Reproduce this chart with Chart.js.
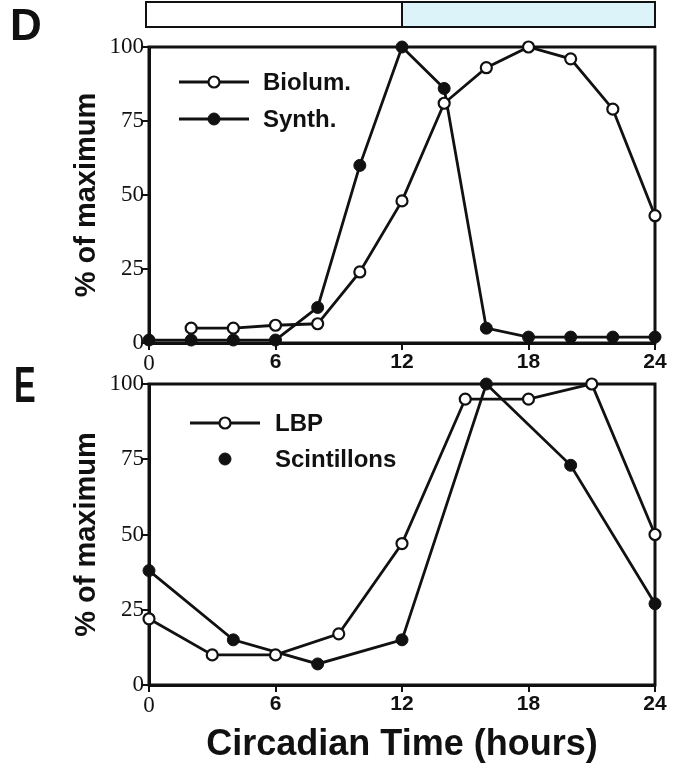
<!DOCTYPE html>
<html>
<head>
<meta charset="utf-8">
<title>Circadian Time</title>
<script src="https://cdn.jsdelivr.net/npm/chart.js@4.4.1/dist/chart.umd.min.js"></script>
<style>
  html, body { margin: 0; padding: 0; background: #fff; }
  #wrap { position: relative; width: 678px; height: 771px; overflow: hidden; }
  #wrap canvas { position: absolute; left: 0; top: 0; }
  .panel { position: absolute; font-family: "Liberation Sans", Arial, sans-serif; font-weight: bold; color: #111; line-height: 1; }
</style>
</head>
<body>
<div id="wrap">
  <canvas id="chartD" width="678" height="771"></canvas>
  <canvas id="chartE" width="678" height="771"></canvas>
  <div class="panel" style="left:10px; top:3px; font-size:44px;">D</div>
  <div class="panel" style="left:14px; top:360px; font-size:50px; transform:scaleX(0.65); transform-origin:left top;">E</div>
</div>
<script>
// Panel D: bioluminescence vs. synthesis over the circadian cycle
const hoursBiolum = [2, 4, 6, 8, 10, 12, 14, 16, 18, 20, 22, 24];
const biolum      = [5, 5, 6, 6.5, 24, 48, 81, 93, 100, 96, 79, 43];
const hoursSynth  = [0, 2, 4, 6, 8, 10, 12, 14, 16, 18, 20, 22, 24];
const synth       = [1, 1, 1, 1, 12, 60, 100, 86, 5, 2, 2, 2, 2];

// Panel E: LBP vs. scintillons
const hoursLbp    = [0, 3, 6, 9, 12, 15, 18, 21, 24];
const lbp         = [22, 10, 10, 17, 47, 95, 95, 100, 50];
const hoursScint  = [0, 4, 8, 12, 16, 20, 24];
const scint       = [38, 15, 7, 15, 100, 73, 27];

const xTicks = [0, 6, 12, 18, 24];
const yTicks = [0, 25, 50, 75, 100];

const INK = '#111';
const SERIF = '"Liberation Serif", "Times New Roman", serif';
const SANS = '"Liberation Sans", Arial, sans-serif';

const pairs = (xs, ys) => xs.map((x, i) => ({ x, y: ys[i] }));

function openSeries(label, xs, ys) {
  return {
    label, data: pairs(xs, ys),
    borderColor: INK, borderWidth: 2.8,
    pointRadius: 5.5, pointBorderWidth: 2.2,
    pointBackgroundColor: '#fff', pointBorderColor: INK,
    tension: 0, clip: false
  };
}
function filledSeries(label, xs, ys) {
  return {
    label, data: pairs(xs, ys),
    borderColor: INK, borderWidth: 2.8,
    pointRadius: 6, pointBorderWidth: 1,
    pointBackgroundColor: INK, pointBorderColor: INK,
    tension: 0, clip: false
  };
}

// box around the plotting area
const frame = {
  id: 'frame',
  beforeDatasetsDraw(chart) {
    const { ctx, chartArea: a } = chart;
    ctx.save();
    ctx.strokeStyle = INK;
    ctx.lineWidth = 3;
    ctx.strokeRect(a.left, a.top, a.right - a.left, a.bottom - a.top);
    ctx.restore();
  }
};

// light/dark bar above panel D, split at the x-scale's midpoint
const dayBar = {
  id: 'dayBar',
  afterDraw(chart, args, opts) {
    if (!opts.show) return;
    const { ctx } = chart;
    const xs = chart.scales.x;
    const x0 = xs.getPixelForValue(xs.min) - 3;
    const xm = xs.getPixelForValue((xs.min + xs.max) / 2);
    const x1 = xs.getPixelForValue(xs.max);
    ctx.save();
    ctx.fillStyle = '#ffffff';
    ctx.fillRect(x0, opts.top, xm - x0, opts.bottom - opts.top);
    ctx.fillStyle = '#dcf3f9';
    ctx.fillRect(xm, opts.top, x1 - xm, opts.bottom - opts.top);
    ctx.strokeStyle = INK;
    ctx.lineWidth = 2;
    ctx.strokeRect(x0, opts.top, x1 - x0, opts.bottom - opts.top);
    ctx.beginPath();
    ctx.moveTo(xm, opts.top);
    ctx.lineTo(xm, opts.bottom);
    ctx.stroke();
    ctx.restore();
  }
};

// in-plot key
const panelKey = {
  id: 'panelKey',
  afterDatasetsDraw(chart, args, opts) {
    const { ctx } = chart;
    opts.items.forEach(item => {
      const ds = chart.data.datasets[item.dataset];
      ctx.save();
      if (item.line) {
        ctx.strokeStyle = ds.borderColor;
        ctx.lineWidth = ds.borderWidth;
        ctx.beginPath();
        ctx.moveTo(opts.x - opts.half, item.y);
        ctx.lineTo(opts.x + opts.half, item.y);
        ctx.stroke();
      }
      ctx.beginPath();
      ctx.arc(opts.x, item.y, ds.pointRadius, 0, Math.PI * 2);
      ctx.fillStyle = ds.pointBackgroundColor;
      ctx.fill();
      ctx.lineWidth = ds.pointBorderWidth;
      ctx.strokeStyle = ds.pointBorderColor;
      ctx.stroke();
      ctx.fillStyle = INK;
      ctx.font = opts.font;
      ctx.textAlign = 'left';
      ctx.textBaseline = 'middle';
      ctx.fillText(ds.label, opts.textX, item.y + 1);
      ctx.restore();
    });
  }
};

function makePanel(id, cfg) {
  const H = 771;
  return new Chart(document.getElementById(id), {
    type: 'line',
    data: { datasets: cfg.datasets },
    plugins: [frame, dayBar, panelKey],
    options: {
      responsive: false,
      animation: false,
      events: [],
      layout: { padding: { left: 0, right: 23, top: cfg.top, bottom: H - cfg.bottom - cfg.xHeight } },
      plugins: {
        legend: { display: false },
        tooltip: { enabled: false },
        dayBar: cfg.dayBar || { show: false },
        panelKey: cfg.key
      },
      scales: {
        x: {
          type: 'linear', min: 0, max: 24,
          afterBuildTicks: s => { s.ticks = xTicks.map(v => ({ value: v })); },
          afterFit: s => { s.height = cfg.xHeight; },
          grid: { drawOnChartArea: false, drawTicks: true, tickLength: 7, color: INK, lineWidth: 2 },
          border: { display: true, color: INK, width: 3 },
          ticks: {
            color: INK, padding: 0, maxRotation: 0, autoSkip: false,
            font: c => (c.tick && c.tick.value === 0)
              ? { family: SERIF, size: 23 }
              : { family: SANS, size: 21, weight: 'bold' }
          },
          title: cfg.xTitle ? {
            display: true, text: cfg.xTitle, color: INK,
            font: { family: SANS, size: 36, weight: 'bold' },
            padding: { top: 0, bottom: 4 }
          } : { display: false }
        },
        y: {
          type: 'linear', min: 0, max: 100,
          afterBuildTicks: s => { s.ticks = yTicks.map(v => ({ value: v })); },
          afterFit: s => { s.width = 149; },
          grid: { drawOnChartArea: false, drawTicks: true, tickLength: 7, color: INK, lineWidth: 2 },
          border: { display: true, color: INK, width: 3 },
          ticks: { color: INK, padding: -2, font: { family: SERIF, size: 23 } },
          title: {
            display: true, text: '% of maximum', color: INK,
            font: { family: SANS, size: 29, weight: 'bold' },
            padding: { top: 70, bottom: 0 }
          }
        }
      }
    }
  });
}

makePanel('chartD', {
  top: 47, bottom: 343, xHeight: 40,
  datasets: [openSeries('Biolum.', hoursBiolum, biolum), filledSeries('Synth.', hoursSynth, synth)],
  dayBar: { show: true, top: 2, bottom: 27 },
  key: {
    x: 214, half: 35, textX: 263, font: 'bold 24px ' + SANS,
    items: [{ dataset: 0, y: 82, line: true }, { dataset: 1, y: 119, line: true }]
  }
});

makePanel('chartE', {
  top: 384, bottom: 685, xHeight: 86,
  xTitle: 'Circadian Time (hours)',
  datasets: [openSeries('LBP', hoursLbp, lbp), filledSeries('Scintillons', hoursScint, scint)],
  key: {
    x: 225, half: 35, textX: 275, font: 'bold 24px ' + SANS,
    items: [{ dataset: 0, y: 423, line: true }, { dataset: 1, y: 459, line: false }]
  }
});
</script>
</body>
</html>
